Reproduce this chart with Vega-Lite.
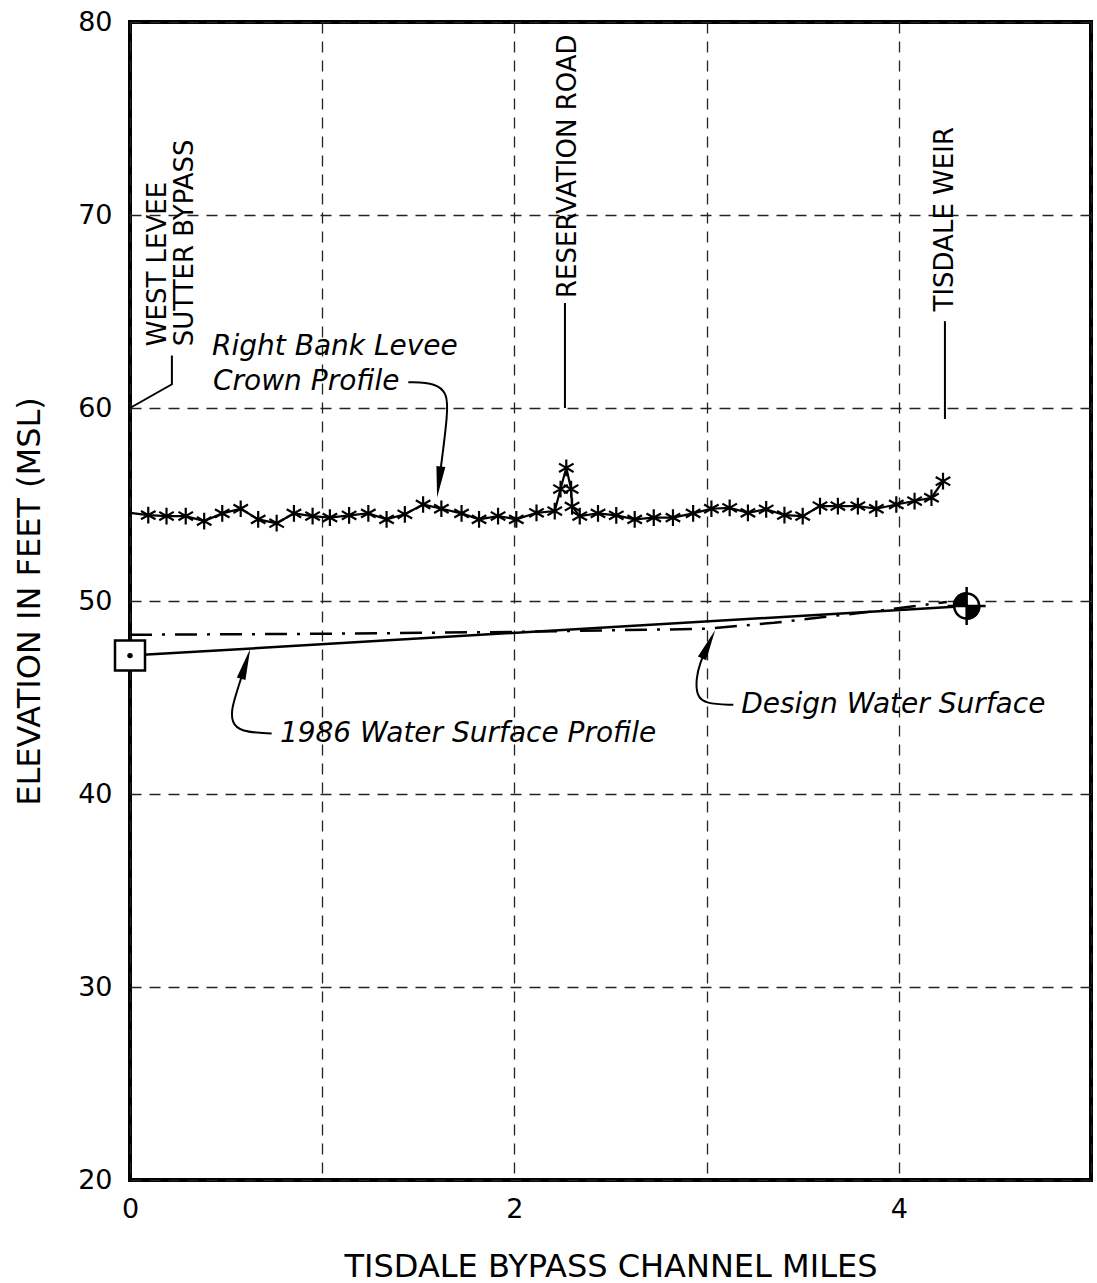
{
  "$schema": "https://vega.github.io/schema/vega-lite/v6.json",
  "width": 961,
  "height": 1158,
  "autosize": "none",
  "padding": {"left": 130, "top": 22, "right": 6, "bottom": 103},
  "background": "white",
  "config": {
    "font": "DejaVu Sans",
    "view": {"stroke": "black", "strokeWidth": 4},
    "axis": {
      "grid": true,
      "gridColor": "#222",
      "gridDash": [11, 8],
      "gridWidth": 1.3,
      "gridOpacity": 1,
      "domain": false,
      "ticks": false,
      "labelFlush": false,
      "labelColor": "black",
      "labelFontSize": 27,
      "labelFont": "DejaVu Sans",
      "titleColor": "black",
      "titleFontSize": 32,
      "titleFontWeight": "normal",
      "titleFont": "DejaVu Sans"
    }
  },
  "datasets": {
    "levee": [
      {"mi": 0, "el": 54.57, "m": 0},
      {"mi": 0.095, "el": 54.45, "m": 1},
      {"mi": 0.19, "el": 54.4, "m": 1},
      {"mi": 0.29, "el": 54.4, "m": 1},
      {"mi": 0.386, "el": 54.14, "m": 1},
      {"mi": 0.48, "el": 54.54, "m": 1},
      {"mi": 0.576, "el": 54.78, "m": 1},
      {"mi": 0.667, "el": 54.23, "m": 1},
      {"mi": 0.763, "el": 54.03, "m": 1},
      {"mi": 0.853, "el": 54.54, "m": 1},
      {"mi": 0.95, "el": 54.4, "m": 1},
      {"mi": 1.04, "el": 54.32, "m": 1},
      {"mi": 1.14, "el": 54.44, "m": 1},
      {"mi": 1.24, "el": 54.54, "m": 1},
      {"mi": 1.335, "el": 54.23, "m": 1},
      {"mi": 1.43, "el": 54.49, "m": 1},
      {"mi": 1.525, "el": 55.0, "m": 1},
      {"mi": 1.62, "el": 54.78, "m": 1},
      {"mi": 1.725, "el": 54.54, "m": 1},
      {"mi": 1.816, "el": 54.23, "m": 1},
      {"mi": 1.915, "el": 54.4, "m": 1},
      {"mi": 2.01, "el": 54.23, "m": 1},
      {"mi": 2.115, "el": 54.57, "m": 1},
      {"mi": 2.21, "el": 54.66, "m": 1},
      {"mi": 2.24, "el": 55.8, "m": 1},
      {"mi": 2.27, "el": 56.9, "m": 1},
      {"mi": 2.295, "el": 55.8, "m": 1},
      {"mi": 2.3, "el": 54.9, "m": 1},
      {"mi": 2.34, "el": 54.4, "m": 1},
      {"mi": 2.435, "el": 54.54, "m": 1},
      {"mi": 2.53, "el": 54.44, "m": 1},
      {"mi": 2.626, "el": 54.23, "m": 1},
      {"mi": 2.725, "el": 54.32, "m": 1},
      {"mi": 2.825, "el": 54.32, "m": 1},
      {"mi": 2.93, "el": 54.54, "m": 1},
      {"mi": 3.025, "el": 54.78, "m": 1},
      {"mi": 3.12, "el": 54.83, "m": 1},
      {"mi": 3.215, "el": 54.57, "m": 1},
      {"mi": 3.31, "el": 54.75, "m": 1},
      {"mi": 3.405, "el": 54.45, "m": 1},
      {"mi": 3.5, "el": 54.4, "m": 1},
      {"mi": 3.59, "el": 54.92, "m": 1},
      {"mi": 3.683, "el": 54.92, "m": 1},
      {"mi": 3.787, "el": 54.92, "m": 1},
      {"mi": 3.883, "el": 54.78, "m": 1},
      {"mi": 3.987, "el": 55.0, "m": 1},
      {"mi": 4.082, "el": 55.18, "m": 1},
      {"mi": 4.17, "el": 55.35, "m": 1},
      {"mi": 4.23, "el": 56.21, "m": 1}
    ],
    "wsp": [
      {"mi": 0, "el": 47.17},
      {"mi": 4.353, "el": 49.74}
    ],
    "design": [
      {"mi": 0, "el": 48.25},
      {"mi": 1.0, "el": 48.3},
      {"mi": 2.0, "el": 48.4},
      {"mi": 3.0, "el": 48.56},
      {"mi": 3.35, "el": 48.87},
      {"mi": 3.9, "el": 49.5},
      {"mi": 4.25, "el": 49.95}
    ],
    "start": [{"mi": 0, "el": 47.17}],
    "end": [{"mi": 4.353, "el": 49.74}],
    "leaders": [
      {"id": "wl", "o": 1, "mi": 0, "el": 60.0},
      {"id": "wl", "o": 2, "mi": 0.218, "el": 61.23},
      {"id": "wl", "o": 3, "mi": 0.218, "el": 62.72},
      {"id": "rr", "o": 1, "mi": 2.263, "el": 60.0},
      {"id": "rr", "o": 2, "mi": 2.263, "el": 65.44},
      {"id": "tw", "o": 1, "mi": 4.24, "el": 59.43},
      {"id": "tw", "o": 2, "mi": 4.24, "el": 64.5}
    ],
    "curves": [
      {"id": "lv", "o": 1, "mi": 1.448, "el": 61.34},
      {"id": "lv", "o": 2, "mi": 1.595, "el": 61.29},
      {"id": "lv", "o": 3, "mi": 1.648, "el": 60.74},
      {"id": "lv", "o": 4, "mi": 1.656, "el": 59.88},
      {"id": "lv", "o": 5, "mi": 1.611, "el": 56.43},
      {"id": "w86", "o": 1, "mi": 0.737, "el": 43.13},
      {"id": "w86", "o": 2, "mi": 0.572, "el": 43.22},
      {"id": "w86", "o": 3, "mi": 0.529, "el": 43.73},
      {"id": "w86", "o": 4, "mi": 0.529, "el": 44.42},
      {"id": "w86", "o": 5, "mi": 0.555, "el": 45.28},
      {"id": "w86", "o": 6, "mi": 0.594, "el": 46.49},
      {"id": "dws", "o": 1, "mi": 3.139, "el": 44.62},
      {"id": "dws", "o": 2, "mi": 2.991, "el": 44.67},
      {"id": "dws", "o": 3, "mi": 2.948, "el": 45.1},
      {"id": "dws", "o": 4, "mi": 2.945, "el": 45.96},
      {"id": "dws", "o": 5, "mi": 2.966, "el": 46.82},
      {"id": "dws", "o": 6, "mi": 2.999, "el": 47.52}
    ],
    "arrows": [
      {"mi": 1.611, "el": 56.43, "ang": 187},
      {"mi": 0.594, "el": 46.49, "ang": 17},
      {"mi": 2.999, "el": 47.52, "ang": 25}
    ],
    "vlabels": [
      {"mi": 0.146, "el": 63.2, "t": "WEST LEVEE"},
      {"mi": 0.288, "el": 63.2, "t": "SUTTER BYPASS"},
      {"mi": 2.279, "el": 65.7, "t": "RESERVATION ROAD"},
      {"mi": 4.24, "el": 65.0, "t": "TISDALE WEIR"}
    ],
    "ilabels": [
      {"mi": 0.427, "el": 63.14, "t": "Right Bank Levee"},
      {"mi": 0.432, "el": 61.34, "t": "Crown Profile"},
      {"mi": 0.78, "el": 43.13, "t": "1986 Water Surface Profile"},
      {"mi": 3.18, "el": 44.6, "t": "Design Water Surface"}
    ]
  },
  "layer": [
    {
      "data": {"name": "leaders"},
      "mark": {"type": "line", "color": "black", "strokeWidth": 2},
      "encoding": {
        "x": {"field": "mi", "type": "quantitative", "scale": {"domain": [0, 5], "nice": false, "zero": false},
              "axis": {"values": [0, 1, 2, 3, 4, 5], "format": "d", "labelExpr": "(datum.value % 2 == 0 && datum.value < 5) ? datum.label : ''", "labelPadding": 16, "title": "TISDALE BYPASS CHANNEL MILES", "titlePadding": 29}},
        "y": {"field": "el", "type": "quantitative", "scale": {"domain": [20, 80], "nice": false, "zero": false},
              "axis": {"values": [20, 30, 40, 50, 60, 70, 80], "format": "d", "labelPadding": 18, "title": "ELEVATION IN FEET (MSL)", "titlePadding": 31}},
        "detail": {"field": "id"},
        "order": {"field": "o"}
      }
    },
    {
      "data": {"name": "curves"},
      "mark": {"type": "line", "color": "black", "strokeWidth": 2, "interpolate": "basis"},
      "encoding": {
        "x": {"field": "mi", "type": "quantitative"},
        "y": {"field": "el", "type": "quantitative"},
        "detail": {"field": "id"},
        "order": {"field": "o"}
      }
    },
    {
      "data": {"name": "arrows"},
      "mark": {"type": "point", "shape": "wedge", "size": 1300, "filled": true, "color": "black", "opacity": 1},
      "encoding": {
        "x": {"field": "mi", "type": "quantitative"},
        "y": {"field": "el", "type": "quantitative"},
        "angle": {"field": "ang", "type": "quantitative", "scale": null}
      }
    },
    {
      "data": {"name": "design"},
      "mark": {"type": "line", "color": "black", "strokeWidth": 2.5, "strokeDash": [22, 10, 3, 10]},
      "encoding": {
        "x": {"field": "mi", "type": "quantitative"},
        "y": {"field": "el", "type": "quantitative"}
      }
    },
    {
      "data": {"name": "wsp"},
      "mark": {"type": "line", "color": "black", "strokeWidth": 2.5},
      "encoding": {
        "x": {"field": "mi", "type": "quantitative"},
        "y": {"field": "el", "type": "quantitative"}
      }
    },
    {
      "data": {"name": "levee"},
      "mark": {"type": "line", "color": "black", "strokeWidth": 2.2},
      "encoding": {
        "x": {"field": "mi", "type": "quantitative"},
        "y": {"field": "el", "type": "quantitative"}
      }
    },
    {
      "data": {"name": "levee"},
      "transform": [{"filter": "datum.m == 1"}],
      "mark": {"type": "point", "shape": "M0,-1L0,1M-0.87,-0.5L0.87,0.5M-0.87,0.5L0.87,-0.5", "size": 280, "filled": false, "color": "black", "strokeWidth": 2.2, "opacity": 1},
      "encoding": {
        "x": {"field": "mi", "type": "quantitative"},
        "y": {"field": "el", "type": "quantitative"}
      }
    },
    {
      "data": {"name": "start"},
      "mark": {"type": "point", "shape": "square", "size": 900, "filled": true, "fill": "white", "stroke": "black", "strokeWidth": 2.5, "opacity": 1},
      "encoding": {
        "x": {"field": "mi", "type": "quantitative"},
        "y": {"field": "el", "type": "quantitative"}
      }
    },
    {
      "data": {"name": "start"},
      "mark": {"type": "point", "shape": "circle", "size": 30, "filled": true, "color": "black", "opacity": 1},
      "encoding": {
        "x": {"field": "mi", "type": "quantitative"},
        "y": {"field": "el", "type": "quantitative"}
      }
    },
    {
      "data": {"name": "end"},
      "mark": {"type": "point", "shape": "circle", "size": 616, "filled": true, "fill": "white", "stroke": "black", "strokeWidth": 2.5, "opacity": 1},
      "encoding": {
        "x": {"field": "mi", "type": "quantitative"},
        "y": {"field": "el", "type": "quantitative"}
      }
    },
    {
      "data": {"name": "end"},
      "mark": {"type": "arc", "theta": 4.7124, "theta2": 6.2832, "radius": 14, "color": "black"},
      "encoding": {
        "x": {"field": "mi", "type": "quantitative"},
        "y": {"field": "el", "type": "quantitative"}
      }
    },
    {
      "data": {"name": "end"},
      "mark": {"type": "arc", "theta": 1.5708, "theta2": 3.1416, "radius": 14, "color": "black"},
      "encoding": {
        "x": {"field": "mi", "type": "quantitative"},
        "y": {"field": "el", "type": "quantitative"}
      }
    },
    {
      "data": {"name": "end"},
      "mark": {"type": "point", "shape": "M-1,0L1,0M0,-1L0,1", "size": 1444, "filled": false, "color": "black", "strokeWidth": 2.5, "opacity": 1},
      "encoding": {
        "x": {"field": "mi", "type": "quantitative"},
        "y": {"field": "el", "type": "quantitative"}
      }
    },
    {
      "data": {"name": "vlabels"},
      "mark": {"type": "text", "angle": 270, "align": "left", "baseline": "middle", "fontSize": 26, "font": "DejaVu Sans", "color": "black"},
      "encoding": {
        "x": {"field": "mi", "type": "quantitative"},
        "y": {"field": "el", "type": "quantitative"},
        "text": {"field": "t"}
      }
    },
    {
      "data": {"name": "ilabels"},
      "mark": {"type": "text", "align": "left", "baseline": "middle", "fontSize": 28, "fontStyle": "italic", "font": "DejaVu Sans", "color": "black"},
      "encoding": {
        "x": {"field": "mi", "type": "quantitative"},
        "y": {"field": "el", "type": "quantitative"},
        "text": {"field": "t"}
      }
    }
  ]
}
